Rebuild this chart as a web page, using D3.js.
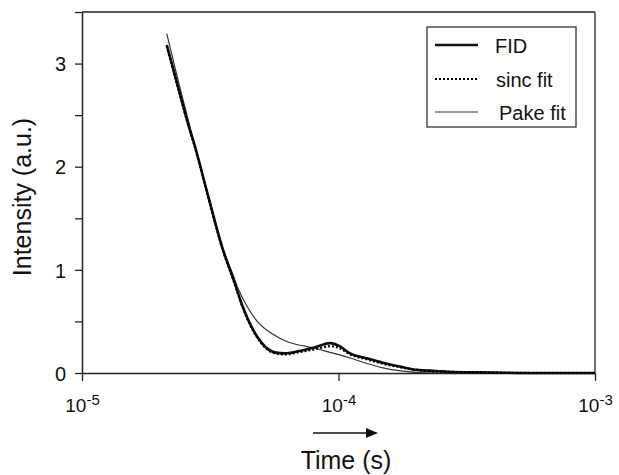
<!DOCTYPE html>
<html><head><meta charset="utf-8">
<script src="https://cdn.jsdelivr.net/npm/d3@7"></script>
<style>body{margin:0;background:#fff}svg{display:block}text{font-family:"Liberation Sans",Arial,sans-serif;fill:#111}</style>
</head><body><svg id="c" width="619" height="475"></svg>
<script>
// Data (time in seconds, intensity in a.u.)
const fidTime   = [2.14e-5,2.4e-5,2.64e-5,2.71e-5,3.1e-5,3.55e-5,3.88e-5,4.21e-5,4.6e-5,5.03e-5,5.65e-5,6.19e-5,6.95e-5,8.1e-5,9.27e-5,1.01e-4,1.11e-4,1.3e-4,1.49e-4,1.75e-4,2.02e-4,2.4e-4,2.79e-4,4e-4,6e-4,1e-3];
const fidValue  = [3.18,2.72,2.35,2.26,1.72,1.19,0.92,0.66,0.44,0.29,0.20,0.19,0.21,0.25,0.29,0.26,0.19,0.14,0.10,0.06,0.03,0.02,0.01,0.005,0.0,0.0];
const sincTime  = [2.14e-5,2.4e-5,2.64e-5,2.71e-5,3.1e-5,3.55e-5,3.88e-5,4.21e-5,4.6e-5,5.03e-5,5.65e-5,6.19e-5,6.95e-5,8.1e-5,9.27e-5,1.01e-4,1.11e-4,1.3e-4,1.49e-4,1.75e-4,2.02e-4,2.4e-4,2.79e-4,4e-4,6e-4,1e-3];
const sincValue = [3.17,2.71,2.34,2.25,1.71,1.18,0.91,0.65,0.43,0.28,0.19,0.18,0.20,0.23,0.26,0.24,0.18,0.13,0.09,0.055,0.03,0.015,0.01,0.004,0.0,0.0];
const pakeTime  = [2.14e-5,2.4e-5,2.71e-5,3.1e-5,3.55e-5,3.88e-5,4.06e-5,4.44e-5,4.86e-5,5.51e-5,6.35e-5,7.4e-5,8.1e-5,9.27e-5,1.11e-4,1.3e-4,1.49e-4,1.75e-4,2.02e-4,3e-4,1e-3];
const pakeValue = [3.29,2.78,2.27,1.72,1.20,0.95,0.82,0.63,0.49,0.38,0.30,0.26,0.24,0.20,0.145,0.09,0.05,0.02,0.005,0.0,0.0];
const yTicks = [0,0.5,1,1.5,2,2.5,3,3.5];
const xTicks = [1e-5,1e-4,1e-3];
const xTickExp = ["-5","-4","-3"];
const legendLabels = ["FID","sinc fit","Pake fit"];

const svg = d3.select("#c");
const L=82,R=595,T=12,B=373;
const x = d3.scaleLog().domain([1e-5,1e-3]).range([L,R]);
const y = d3.scaleLinear().domain([0,3.5]).range([B,T]);

// frame top/right
svg.append("line").attr("x1",L).attr("x2",R).attr("y1",T).attr("y2",T).attr("stroke","#222").attr("stroke-width",1.5);
svg.append("line").attr("x1",R).attr("x2",R).attr("y1",T).attr("y2",B).attr("stroke","#444").attr("stroke-width",1.5);

// y axis
const ya = svg.append("g").attr("transform",`translate(${L},0)`)
  .call(d3.axisLeft(y).tickValues(yTicks).tickSize(7).tickSizeOuter(0).tickFormat(d=>Number.isInteger(d)?d:""));
ya.select(".domain").attr("stroke","#222").attr("stroke-width",1.5);
ya.selectAll(".tick line").attr("stroke","#222").attr("stroke-width",1.3);
ya.selectAll(".tick text").attr("x",-16).attr("dy","0.36em").style("font-size","20px").attr("fill","#111");

// x axis
const xa = svg.append("g").attr("transform",`translate(0,${B})`)
  .call(d3.axisBottom(x).tickValues(xTicks).tickSize(8).tickSizeOuter(0).tickFormat(""));
xa.select(".domain").attr("stroke","#222").attr("stroke-width",1.5);
xa.selectAll(".tick line").attr("stroke","#222").attr("stroke-width",1.3);
xa.selectAll(".tick text").each(function(d,i){
  const t=d3.select(this).attr("y",39).attr("dy",0).style("font-size","19px").attr("text-anchor","middle");
  t.append("tspan").text("10");
  t.append("tspan").attr("dy",-7).style("font-size","15px").text(xTickExp[i]);
});

// axis titles
svg.append("text").attr("x",346).attr("y",469).attr("text-anchor","middle").style("font-size","25px").text("Time (s)");
svg.append("text").attr("transform","translate(31,197) rotate(-90)").attr("text-anchor","middle").style("font-size","25px").text("Intensity (a.u.)");

// arrow
svg.append("line").attr("x1",313).attr("x2",368).attr("y1",433).attr("y2",433).attr("stroke","#111").attr("stroke-width",1.5);
svg.append("path").attr("d","M366,428 L378,433 L366,438 Z").attr("fill","#111");

// curves
const mk = (ts,vs)=>ts.map((t,i)=>[t,vs[i]]);
const line = d3.line().x(d=>x(d[0])).y(d=>y(d[1])).curve(d3.curveMonotoneX);
svg.append("path").datum(mk(pakeTime,pakeValue)).attr("d",line).attr("fill","none").attr("stroke","#333").attr("stroke-width",1.2);
svg.append("path").datum(mk(fidTime,fidValue)).attr("d",line).attr("fill","none").attr("stroke","#111").attr("stroke-width",2.6);
svg.append("path").datum(mk(sincTime,sincValue)).attr("d",line).attr("fill","none").attr("stroke","#000").attr("stroke-width",2.2).attr("stroke-dasharray","2,2");

// legend
const lg = svg.append("g");
lg.append("rect").attr("x",427).attr("y",27).attr("width",149).attr("height",100).attr("fill","#fff").attr("stroke","#333").attr("stroke-width",1.3);
const styles=[{w:2.6,c:"#111",da:null},{w:2.2,c:"#000",da:"2,2"},{w:1.2,c:"#333",da:null}];
const ly=[45,79,112], tx=[495,496,499];
legendLabels.forEach((lab,i)=>{
  lg.append("line").attr("x1",435).attr("x2",478).attr("y1",ly[i]).attr("y2",ly[i]).attr("stroke",styles[i].c).attr("stroke-width",styles[i].w).attr("stroke-dasharray",styles[i].da);
  lg.append("text").attr("x",tx[i]).attr("y",ly[i]+8).style("font-size","20px").text(lab);
});
</script></body></html>
